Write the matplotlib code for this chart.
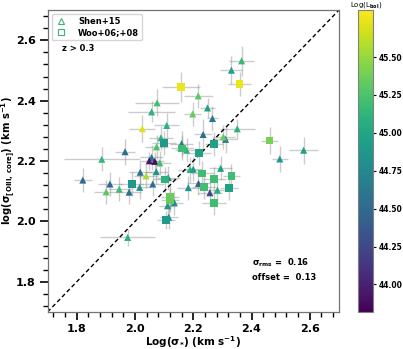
import numpy as np
import matplotlib
matplotlib.use("Agg")
import matplotlib.pyplot as plt
from matplotlib.lines import Line2D
from matplotlib.ticker import MultipleLocator, FormatStrFormatter

# ---- data ----
shen_x = [2.366, 2.331, 2.217, 2.076, 2.057, 2.198, 2.249, 2.266, 2.025, 2.109,
          2.351, 2.234, 2.089, 2.311, 2.303, 1.966, 2.074, 2.160, 2.177, 1.886,
          2.057, 2.049, 2.068, 2.085, 2.018, 2.038, 2.073, 2.114, 2.061, 1.821,
          1.914, 2.016, 1.980, 1.946, 1.901, 2.135, 2.112, 2.116, 1.975, 2.189,
          2.294, 2.218, 2.183, 2.283, 2.257, 2.579, 2.497, 2.200]
shen_y = [2.532, 2.501, 2.416, 2.393, 2.363, 2.356, 2.376, 2.341, 2.307, 2.318,
          2.307, 2.288, 2.277, 2.272, 2.280, 2.231, 2.247, 2.258, 2.236, 2.206,
          2.212, 2.201, 2.199, 2.194, 2.163, 2.151, 2.165, 2.145, 2.124, 2.137,
          2.124, 2.113, 2.097, 2.107, 2.098, 2.062, 2.052, 2.014, 1.947, 2.172,
          2.176, 2.126, 2.112, 2.104, 2.095, 2.236, 2.207, 2.173]
shen_lbol = [45.15, 44.95, 45.30, 45.20, 45.10, 45.35, 44.95, 44.60, 45.70, 45.10,
             45.10, 44.55, 45.10, 44.60, 45.35, 44.55, 45.25, 44.70, 45.10, 45.15,
             44.60, 43.95, 43.90, 45.20, 44.55, 45.55, 44.85, 44.60, 44.55, 44.50,
             44.50, 44.85, 44.55, 45.20, 45.30, 44.80, 44.85, 44.80, 45.10, 45.10,
             44.95, 44.45, 44.85, 45.05, 44.25, 44.95, 44.90, 44.90]
shen_xerr = [0.042, 0.038, 0.050, 0.076, 0.080, 0.030, 0.025, 0.020, 0.045, 0.042,
             0.060, 0.030, 0.040, 0.040, 0.040, 0.035, 0.040, 0.040, 0.040, 0.130,
             0.040, 0.030, 0.030, 0.040, 0.040, 0.040, 0.040, 0.040, 0.040, 0.030,
             0.040, 0.040, 0.040, 0.040, 0.040, 0.030, 0.030, 0.030, 0.095, 0.040,
             0.040, 0.040, 0.040, 0.040, 0.040, 0.050, 0.027, 0.030]
shen_yerr = [0.050, 0.047, 0.040, 0.045, 0.035, 0.040, 0.033, 0.040, 0.045, 0.040,
             0.033, 0.050, 0.040, 0.045, 0.040, 0.043, 0.040, 0.040, 0.040, 0.040,
             0.040, 0.030, 0.030, 0.040, 0.040, 0.040, 0.040, 0.040, 0.040, 0.040,
             0.040, 0.040, 0.040, 0.040, 0.040, 0.040, 0.040, 0.040, 0.028, 0.040,
             0.040, 0.040, 0.040, 0.040, 0.040, 0.045, 0.043, 0.040]

woo_x = [2.158, 2.359, 2.462, 2.272, 2.100, 2.162, 2.220, 2.231, 2.331, 2.272,
         2.236, 2.323, 2.271, 2.120, 2.120, 2.103, 2.106, 1.989]
woo_y = [2.446, 2.455, 2.268, 2.256, 2.260, 2.242, 2.227, 2.159, 2.150, 2.140,
         2.115, 2.110, 2.062, 2.082, 2.071, 2.139, 2.005, 2.124]
woo_lbol = [45.75, 45.75, 45.40, 44.95, 44.90, 45.20, 44.95, 45.20, 45.20, 45.20,
            45.20, 44.95, 45.20, 45.35, 45.35, 45.10, 44.90, 44.90]
woo_xerr = [0.065, 0.038, 0.030, 0.030, 0.040, 0.040, 0.040, 0.040, 0.030, 0.040,
            0.040, 0.030, 0.040, 0.030, 0.030, 0.040, 0.030, 0.040]
woo_yerr = [0.050, 0.040, 0.045, 0.040, 0.040, 0.040, 0.040, 0.040, 0.040, 0.040,
            0.040, 0.040, 0.040, 0.040, 0.040, 0.040, 0.030, 0.040]

vmin, vmax = 43.82, 45.81
cbar_ticks = [44.00, 44.25, 44.50, 44.75, 45.00, 45.25, 45.50]
sigma_rms, offset = 0.16, 0.13

plt.rcParams['font.family'] = 'DejaVu Sans'
plt.rcParams['font.weight'] = 'bold'
plt.rcParams['mathtext.default'] = 'bf'

fig = plt.figure(figsize=(4.03, 3.49), dpi=100)
ax = fig.add_axes([0.118, 0.106, 0.723, 0.865])
cax = fig.add_axes([0.889, 0.107, 0.037, 0.864])

# error bars
ax.errorbar(shen_x, shen_y, xerr=shen_xerr, yerr=shen_yerr, fmt='none',
            ecolor='gray', alpha=0.4, elinewidth=1.0, zorder=1)
ax.errorbar(woo_x, woo_y, xerr=woo_xerr, yerr=woo_yerr, fmt='none',
            ecolor='gray', alpha=0.4, elinewidth=1.0, zorder=1)

sc = ax.scatter(shen_x, shen_y, c=shen_lbol, cmap='viridis', vmin=vmin, vmax=vmax,
                marker='^', s=26, zorder=3, linewidths=0)
ax.scatter(woo_x, woo_y, c=woo_lbol, cmap='viridis', vmin=vmin, vmax=vmax,
           marker='s', s=30, zorder=3, linewidths=0)

ax.plot([1.7, 2.7], [1.7, 2.7], ls=(0, (3, 2)), color='black', lw=1.0, zorder=2)

ax.set_xlim(1.7, 2.7)
ax.set_ylim(1.7, 2.7)
ax.xaxis.set_major_locator(MultipleLocator(0.2))
ax.yaxis.set_major_locator(MultipleLocator(0.2))
ax.xaxis.set_minor_locator(MultipleLocator(0.04))
ax.yaxis.set_minor_locator(MultipleLocator(0.04))
ax.xaxis.set_major_formatter(FormatStrFormatter('%.1f'))
ax.yaxis.set_major_formatter(FormatStrFormatter('%.1f'))
ax.tick_params(which='major', length=6, width=1.2, labelsize=8, pad=2.5)
ax.tick_params(which='minor', length=3.5, width=1.0)
for lab in ax.get_xticklabels() + ax.get_yticklabels():
    lab.set_fontweight('bold')
for sp in ax.spines.values():
    sp.set_color('0.45')
    sp.set_linewidth(0.9)

ax.set_xlabel(r'Log($\sigma_{*}$) (km s$^{-1}$)', fontsize=7.5,
              fontweight='bold', labelpad=0.5)
ax.set_ylabel(r'log($\sigma_{[OIII,\,core]}$) (km s$^{-1}$)', fontsize=7.2,
              fontweight='bold', labelpad=-0.5)

green = '#3cb371'
handles = [Line2D([], [], marker='^', ls='none', mfc='none', mec=green, ms=5, mew=0.8),
           Line2D([], [], marker='s', ls='none', mfc='none', mec=green, ms=5, mew=0.8)]
ax.legend(handles, ['Shen+15', 'Woo+06;+08'], loc='upper left',
          prop={'weight': 'bold', 'size': 6}, handletextpad=1.2, handlelength=1.6,
          borderpad=0.35, labelspacing=0.25, bbox_to_anchor=(0.0, 1.0))

ax.text(0.05, 0.874, 'z > 0.3', transform=ax.transAxes, fontsize=6,
        fontweight='bold', va='center')
ax.text(0.70, 0.162, r'$\sigma_{rms}$ =  %.2f' % sigma_rms, transform=ax.transAxes,
        fontsize=6, fontweight='bold', va='center')
ax.text(0.70, 0.113, 'offset =  %.2f' % offset, transform=ax.transAxes,
        fontsize=6, fontweight='bold', va='center')

cb = fig.colorbar(sc, cax=cax, ticks=cbar_ticks)
cb.ax.yaxis.set_major_formatter(FormatStrFormatter('%.2f'))
cb.ax.tick_params(labelsize=5.5, length=2.5, pad=1.5)
for lab in cb.ax.get_yticklabels():
    lab.set_fontweight('bold')
cb.outline.set_edgecolor('0.5')
cb.ax.set_title(r'Log(L$_{\mathrm{bol}}$)', fontsize=5, fontweight='normal', pad=0.5)

fig.savefig('out.png', dpi=100)
